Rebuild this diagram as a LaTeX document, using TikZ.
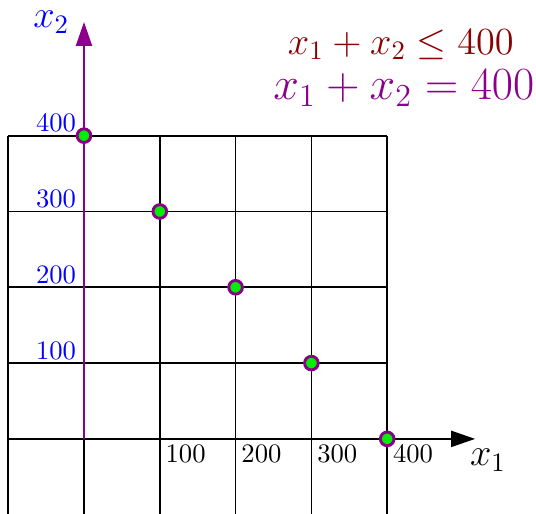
\documentclass[tikz,border=0pt]{standalone}
\usepackage{amsmath}
\usepackage{tikz}
\usetikzlibrary{arrows.meta,positioning,calc}
\definecolor{linecol}{HTML}{8B008B}
\definecolor{ineqcol}{HTML}{8B0000}
\definecolor{dotfill}{HTML}{00EE00}

\begin{document}
\begin{tikzpicture}[scale=1]
 \useasboundingbox (-1.108,-0.989) rectangle (5.963,5.79);
 \clip (-1.108,-0.989) rectangle (5.963,5.79);
 \draw[semithick] (-1,-1) grid (4,4);
 \coordinate (O) at (0,0);
 \coordinate (xend) at (5.16,0);
 \coordinate (yend) at (0,5.5);
 \draw[thick,-{Triangle[length=9pt,width=6pt]}] (O)--(xend);
 \draw[thick,color=linecol,-{Triangle[length=9pt,width=6pt]}] (O)--(yend);
 \foreach \k in {1,2,3,4}{
   \node[below right,inner sep=2pt] (xl\k) at (\k,0) {\k00};
   \node[above left,inner xsep=2.8pt,inner ysep=1pt,text=blue] (yl\k) at (0,\k) {\k00};
 }
 \foreach \x/\y in {0/4,1/3,2/2,3/1,4/0}
   \filldraw[draw=linecol,fill=dotfill,line width=1.1pt] (\x,\y) circle (.09);
 \node[text=blue,font=\Large] (xtwo) at (-0.43,5.5) {$x_2$};
 \node[font=\Large] (xone) at (5.33,-0.28) {$x_1$};
 \node[text=ineqcol,font=\Large] (ineq) at (4.18,5.2) {$x_1+x_2\leq 400$};
 \node[text=linecol,font=\LARGE] (eq) at (4.22,4.63) {$x_1+x_2=400$};
\end{tikzpicture}
\end{document}
